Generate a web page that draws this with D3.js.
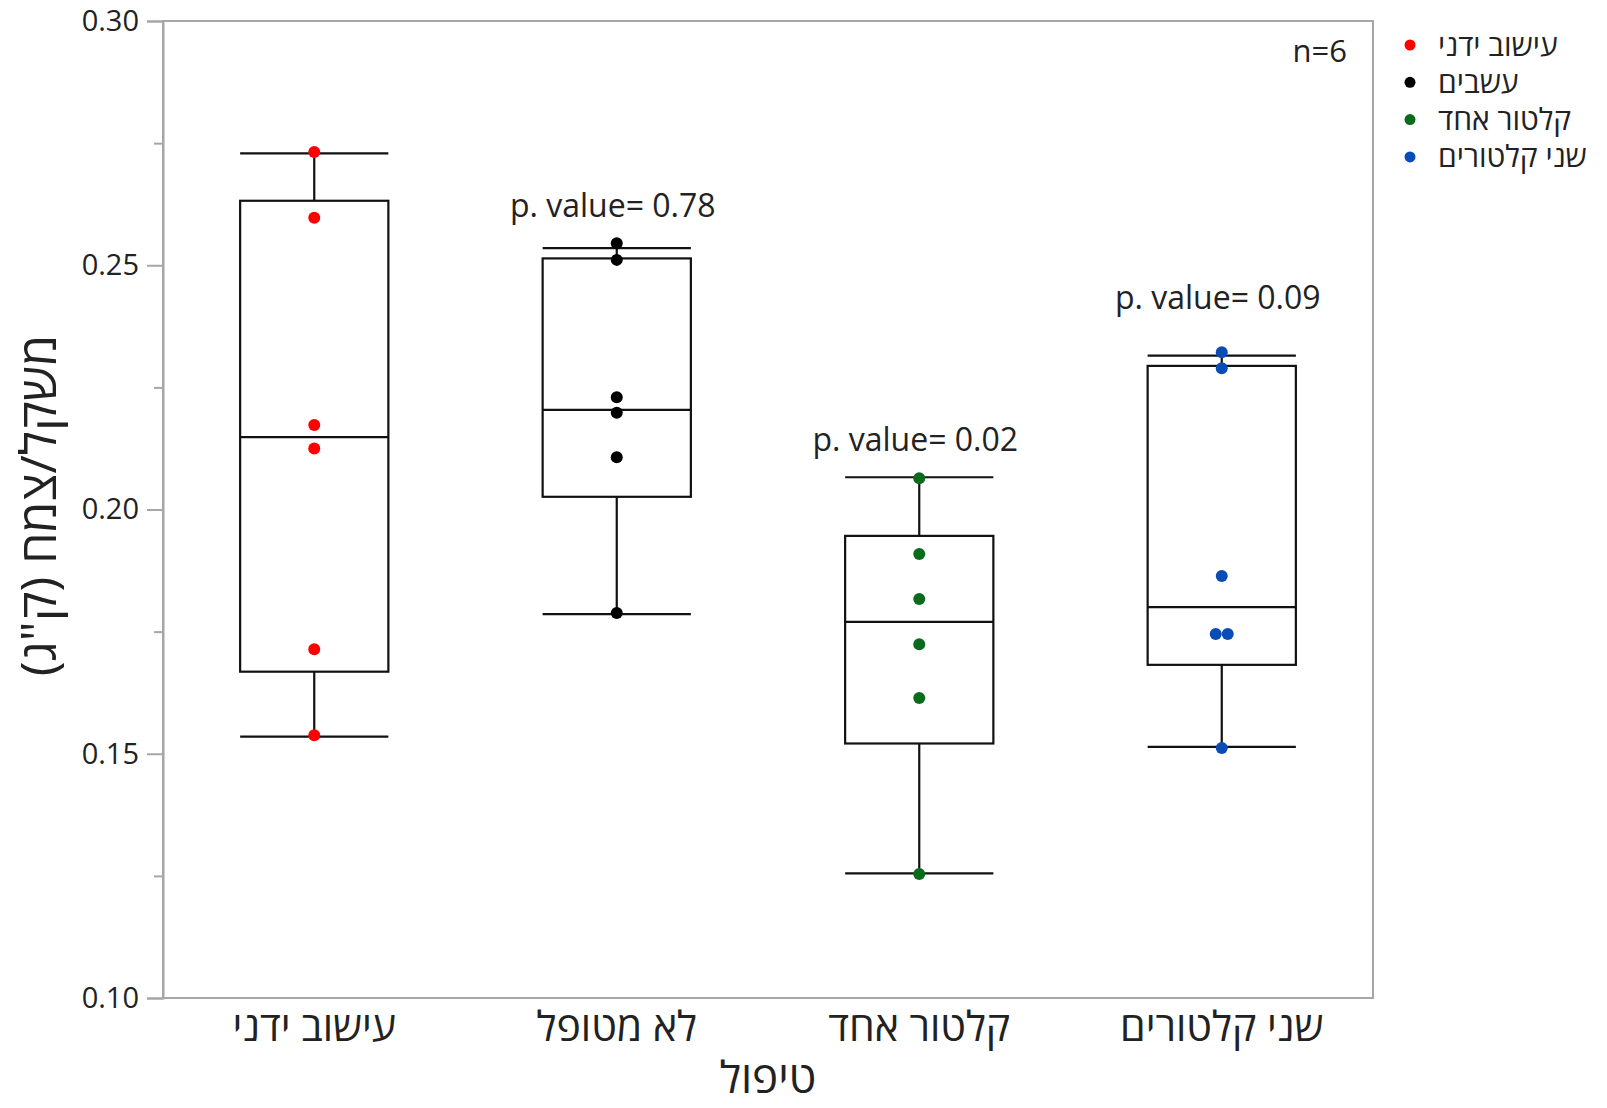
<!DOCTYPE html>
<html>
  <head>
    <meta charset="utf-8">
    <style>
      body { margin: 0; background: #fff; }
      svg text { font-family: "Open Sans", "Noto Sans", "DejaVu Sans", sans-serif; fill: #222; }
      .axis path, .axis line { stroke: #a6a6a6; stroke-width: 2; }
      .box line, .box rect { stroke: #111; stroke-width: 2.2; fill: none; }
    </style>
  </head>
  <body>
    <svg id="chart"></svg>

    <script src="https://d3js.org/d3.v7.min.js"></script>
    <script type="text/javascript">
      // groups (x categories)
      const categories = ["עישוב ידני", "לא מטופל", "קלטור אחד", "שני קלטורים"];
      const legendLabels = ["עישוב ידני", "עשבים", "קלטור אחד", "שני קלטורים"];
      const colors = ["#ff0000", "#000000", "#0b6b1d", "#0a4cb6"];

      // individual plants (kg per plant)
      const points = [
        [0.2732, 0.2597, 0.2173, 0.2125, 0.1714, 0.1538],
        [0.2545, 0.2511, 0.2230, 0.2198, 0.2107, 0.1788],
        [0.2064, 0.1909, 0.1817, 0.1724, 0.1614, 0.1254],
        [0.2322, 0.2289, 0.1864, 0.1745, 0.1745, 0.1512]
      ];

      // box stats as drawn
      const whiskerLow = [0.1535, 0.1786, 0.1255, 0.1514];
      const q1 = [0.1668, 0.2026, 0.1521, 0.1682];
      const median = [0.2148, 0.2204, 0.1770, 0.1800];
      const q3 = [0.2632, 0.2514, 0.1946, 0.2294];
      const whiskerHigh = [0.2729, 0.2535, 0.2066, 0.2315];

      // p-values and the level they are written at
      const pValues = [null, "0.78", "0.02", "0.09"];
      const pLabelAt = [null, 0.2621, 0.2142, 0.2433];

      const yTicks = [0.10, 0.15, 0.20, 0.25, 0.30];
      const yMinorTicks = [0.125, 0.175, 0.225, 0.275];

      (function() {
        const width = 1607, height = 1108;
        const mLeft = 163, mRight = 1373, mTop = 21, mBottom = 998;

        const svg = d3.select("#chart").attr("width", width).attr("height", height);

        const x = d3.scaleBand().domain(categories).range([mLeft, mRight]).padding(0);
        const y = d3.scaleLinear().domain([0.10, 0.30]).range([mBottom, mTop]);
        const boxW = x.bandwidth() * 0.49;

        // frame
        svg.append("rect")
          .attr("x", mLeft).attr("y", mTop)
          .attr("width", mRight - mLeft).attr("height", mBottom - mTop)
          .attr("fill", "none").attr("stroke", "#a6a6a6").attr("stroke-width", 2);

        // y axis
        const yAxis = svg.append("g").attr("class", "axis")
          .attr("transform", "translate(" + mLeft + ",0)")
          .call(d3.axisLeft(y).tickValues(yTicks).tickFormat(d3.format(".2f")).tickSize(16).tickPadding(8));
        yAxis.selectAll("text").style("font-size", "29px");

        svg.append("g").attr("class", "axis")
          .attr("transform", "translate(" + mLeft + ",0)")
          .call(d3.axisLeft(y).tickValues(yMinorTicks).tickFormat("").tickSize(9))
          .select(".domain").remove();

        // x axis (labels only)
        const xAxis = svg.append("g").attr("class", "axis")
          .attr("transform", "translate(0," + mBottom + ")")
          .call(d3.axisBottom(x).tickSize(0).tickPadding(14));
        xAxis.select(".domain").remove();
        xAxis.selectAll("text").style("font-size", "41px").attr("direction", "rtl");

        // boxes
        const box = svg.selectAll(".box")
          .data(categories)
          .enter().append("g")
          .attr("class", "box")
          .attr("transform", function(d) { return "translate(" + (x(d) + x.bandwidth() / 2) + ",0)"; });

        box.append("line")
          .attr("y1", function(d, i) { return y(whiskerHigh[i]); })
          .attr("y2", function(d, i) { return y(q3[i]); });
        box.append("line")
          .attr("y1", function(d, i) { return y(q1[i]); })
          .attr("y2", function(d, i) { return y(whiskerLow[i]); });
        box.append("rect")
          .attr("x", -boxW / 2).attr("width", boxW)
          .attr("y", function(d, i) { return y(q3[i]); })
          .attr("height", function(d, i) { return y(q1[i]) - y(q3[i]); });
        [whiskerHigh, median, whiskerLow].forEach(function(arr) {
          box.append("line")
            .attr("x1", -boxW / 2).attr("x2", boxW / 2)
            .attr("y1", function(d, i) { return y(arr[i]); })
            .attr("y2", function(d, i) { return y(arr[i]); });
        });

        // points, ties spread side by side
        categories.forEach(function(c, gi) {
          const cx = x(c) + x.bandwidth() / 2;
          const counts = d3.rollup(points[gi], v => v.length, d => d);
          const seen = new Map();
          svg.append("g").selectAll("circle")
            .data(points[gi])
            .enter().append("circle")
            .attr("cx", function(d) {
              const n = counts.get(d);
              const k = seen.get(d) || 0;
              seen.set(d, k + 1);
              return cx + (k - (n - 1) / 2) * 12;
            })
            .attr("cy", function(d) { return y(d); })
            .attr("r", 6)
            .attr("fill", colors[gi]);
        });

        // p-value labels
        svg.selectAll(".pval")
          .data(categories.filter(function(d, i) { return pValues[i] !== null; }))
          .enter().append("text")
          .attr("class", "pval")
          .attr("x", function(d) { return x(d) + x.bandwidth() / 2 - 4; })
          .attr("y", function(d) { return y(pLabelAt[categories.indexOf(d)]); })
          .attr("dy", "0.35em")
          .attr("text-anchor", "middle")
          .style("font-size", "32px")
          .text(function(d) { return "p. value= " + pValues[categories.indexOf(d)]; });

        svg.append("text")
          .attr("x", 1347).attr("y", 62)
          .attr("text-anchor", "end")
          .style("font-size", "31px")
          .text("n=6");

        // axis titles
        svg.append("text")
          .attr("transform", "translate(38," + ((mTop + mBottom) / 2 - 4) + ") rotate(-90)")
          .attr("text-anchor", "middle")
          .attr("dy", "0.35em")
          .attr("direction", "rtl")
          .style("font-size", "50px")
          .text('משקל/צמח (ק"ג)');

        svg.append("text")
          .attr("x", (mLeft + mRight) / 2).attr("y", 1093)
          .attr("text-anchor", "middle")
          .style("font-size", "44px")
          .text("טיפול");

        // legend
        const legend = svg.selectAll(".legend")
          .data(legendLabels)
          .enter().append("g")
          .attr("transform", function(d, i) { return "translate(1410," + (45 + i * 37.3) + ")"; });
        legend.append("circle").attr("r", 5.5).attr("fill", function(d, i) { return colors[i]; });
        legend.append("text")
          .attr("x", 28).attr("dy", "0.35em")
          .style("font-size", "30px")
          .text(function(d) { return d; });
      })();
    </script>
  </body>
</html>
